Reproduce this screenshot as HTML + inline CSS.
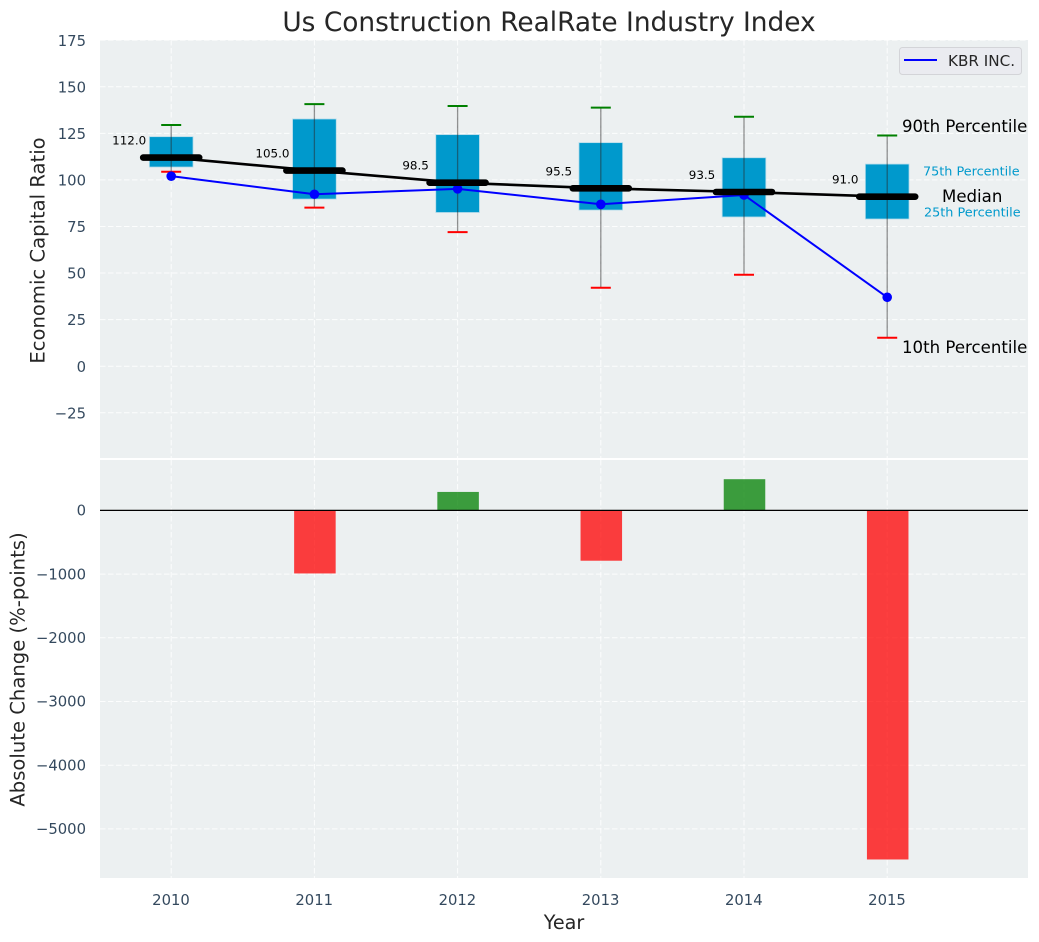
<!DOCTYPE html>
<html lang="en">
<head>
<meta charset="utf-8">
<title>Us Construction RealRate Industry Index</title>
<style>
html,body{margin:0;padding:0;background:#fff;}
svg{display:block;font-family:"DejaVu Sans","Liberation Sans",sans-serif;}
</style>
</head>
<body>
<svg id="chart" width="1039" height="942" viewBox="0 0 1039 942" xmlns="http://www.w3.org/2000/svg">
  <rect x="0" y="0" width="1039" height="942" fill="#ffffff"/>
  <rect x="100" y="40" width="928" height="418" fill="#ecf0f1"/>
  <rect x="100" y="460" width="928" height="418" fill="#ecf0f1"/>
  <g id="grid"></g>
  <g id="bars"></g>
  <g id="boxes"></g>
  <g id="lines"></g>
  <g id="ticks"></g>
  <text x="549" y="31" text-anchor="middle" font-size="26.4" fill="#262626">Us Construction RealRate Industry Index</text>
  <text transform="translate(44.5,250.5) rotate(-90)" text-anchor="middle" font-size="19.6" fill="#262626">Economic Capital Ratio</text>
  <text transform="translate(24.5,669.5) rotate(-90)" text-anchor="middle" font-size="19.6" fill="#262626">Absolute Change (%-points)</text>
  <text x="564" y="929" text-anchor="middle" font-size="19.2" fill="#262626">Year</text>
  <text x="902" y="132" font-size="16.6" fill="#000000">90th Percentile</text>
  <text x="923" y="175.5" font-size="12.8" fill="#0099cc">75th Percentile</text>
  <text x="942" y="202" font-size="16.6" fill="#000000">Median</text>
  <text x="924" y="216.5" font-size="12.8" fill="#0099cc">25th Percentile</text>
  <text x="902" y="353" font-size="16.6" fill="#000000">10th Percentile</text>
  <g>
    <rect x="899.5" y="47.5" width="122" height="27" rx="3" fill="#eaebf0" stroke="#d3d4d8" stroke-width="1"/>
    <line x1="904" y1="60" x2="937" y2="60" stroke="#0000ff" stroke-width="2"/>
    <text x="948" y="66" font-size="15.2" fill="#262626">KBR INC.</text>
  </g>
</svg>
<script>
var years = [2010, 2011, 2012, 2013, 2014, 2015];
var p90 = [129.5, 140.7, 139.7, 138.8, 133.9, 123.8];
var p75 = [123.2, 132.7, 124.3, 120, 111.9, 108.5];
var medians = [112, 105, 98.5, 95.5, 93.5, 91];
var p25 = [106.9, 89.7, 82.5, 83.8, 80.1, 79];
var p10 = [104.4, 85.1, 72, 42.1, 49.1, 15.3];
var kbr = [102, 92.3, 95.2, 86.9, 91.9, 37];
var changes = [0, -990, 290, -790, 490, -5480];
var topTicks = [175, 150, 125, 100, 75, 50, 25, 0, -25];
var bottomTicks = [0, -1000, -2000, -3000, -4000, -5000];

var NS = 'http://www.w3.org/2000/svg';
function xScale(v) { return 171.2 + (v - 2010) * 143.2; }
function xLen(v) { return v * 143.2; }
function yTop(v) { return 366.2 - v * 1.863; }
function yBottom(v) { return 510.4 - v * 0.0637; }
function fmt(v) { return (v < 0 ? '\u2212' + Math.abs(v) : String(v)); }

function line(parent, x1, y1, x2, y2, stroke, width) {
  var el = document.createElementNS(NS, 'line');
  el.setAttribute('x1', x1);
  el.setAttribute('y1', y1);
  el.setAttribute('x2', x2);
  el.setAttribute('y2', y2);
  el.setAttribute('stroke', stroke);
  el.setAttribute('stroke-width', width);
  parent.appendChild(el);
  return el;
}
function rect(parent, x, y, w, h, fill) {
  var el = document.createElementNS(NS, 'rect');
  el.setAttribute('x', x);
  el.setAttribute('y', y);
  el.setAttribute('width', w);
  el.setAttribute('height', h);
  el.setAttribute('fill', fill);
  parent.appendChild(el);
  return el;
}
function text(parent, x, y, str, size, fill, anchor) {
  var el = document.createElementNS(NS, 'text');
  el.setAttribute('x', x);
  el.setAttribute('y', y);
  el.setAttribute('font-size', size);
  el.setAttribute('fill', fill);
  el.setAttribute('text-anchor', anchor);
  el.textContent = str;
  parent.appendChild(el);
  return el;
}

var gGrid = document.getElementById('grid');
var gBars = document.getElementById('bars');
var gBoxes = document.getElementById('boxes');
var gLines = document.getElementById('lines');
var gTicks = document.getElementById('ticks');
var TICK = '#34495e';
var GRID = 'rgba(255,255,255,0.85)';
var DASH = '5.5 2.5';

topTicks.forEach(function (t) {
  var y = yTop(t);
  var g = line(gGrid, 100, y, 1028, y, GRID, 1);
  g.setAttribute('stroke-dasharray', DASH);
  
  
  var l = text(gTicks, 86, y + 5.6, fmt(t), 14.8, TICK, 'end');
  
  
});
bottomTicks.forEach(function (t) {
  var y = yBottom(t);
  if (t !== 0) {
    var g = line(gGrid, 100, y, 1028, y, GRID, 1);
    g.setAttribute('stroke-dasharray', DASH);
    
    
  }
  var l = text(gTicks, 86, y + 5.2, fmt(t), 14.8, TICK, 'end');
  
  
});
years.forEach(function (yr) {
  var x = xScale(yr);
  var a = line(gGrid, x, 40, x, 458, GRID, 1);
  a.setAttribute('stroke-dasharray', DASH);
  
  
  var b = line(gGrid, x, 460, x, 878, GRID, 1);
  b.setAttribute('stroke-dasharray', DASH);
  
  
  var l = text(gTicks, x - 0.2, 905, String(yr), 14.8, TICK, 'middle');
  
  
});

years.forEach(function (yr, i) {
  var v = changes[i];
  if (v === 0) return;
  var w = xLen(0.29);
  var y0 = yBottom(Math.max(v, 0));
  var y1 = yBottom(Math.min(v, 0));
  var bar = rect(gBars, xScale(yr) - w / 2 + 0.5, y0, w, y1 - y0, v < 0 ? '#ff0000' : '#008000');
  bar.setAttribute('fill-opacity', '0.75');
  
  
});
var zero = line(gBars, 100, yBottom(0), 1028, yBottom(0), '#000000', 1.3);



years.forEach(function (yr, i) {
  var x = xScale(yr);
  var w = xLen(0.305);
  var box = rect(gBoxes, x - w / 2, yTop(p75[i]), w, yTop(p25[i]) - yTop(p75[i]), '#0099cc');
  box.setAttribute('stroke', '#b5dcea');
  box.setAttribute('stroke-width', '0.8');
  
  
  var whisker = line(gBoxes, x, yTop(p90[i]), x, yTop(p10[i]), 'rgba(40,40,40,0.5)', 1.3);
  
  
  var hi = line(gBoxes, x - 10, yTop(p90[i]), x + 10, yTop(p90[i]), '#008000', 2);
  
  
  var lo = line(gBoxes, x - 10, yTop(p10[i]), x + 10, yTop(p10[i]), '#ff0000', 2);
  
  
});

var medianPath = document.createElementNS(NS, 'polyline');
medianPath.setAttribute('points', years.map(function (yr, i) { return xScale(yr) + ',' + yTop(medians[i]); }).join(' '));
medianPath.setAttribute('fill', 'none');
medianPath.setAttribute('stroke', '#000000');
medianPath.setAttribute('stroke-width', '2.6');


gLines.appendChild(medianPath);

var kbrPath = document.createElementNS(NS, 'polyline');
kbrPath.setAttribute('points', years.map(function (yr, i) { return xScale(yr) + ',' + yTop(kbr[i]); }).join(' '));
kbrPath.setAttribute('fill', 'none');
kbrPath.setAttribute('stroke', '#0000ff');
kbrPath.setAttribute('stroke-width', '2');


gLines.appendChild(kbrPath);

years.forEach(function (yr, i) {
  var x = xScale(yr);
  var dot = document.createElementNS(NS, 'circle');
  dot.setAttribute('cx', x);
  dot.setAttribute('cy', yTop(kbr[i]));
  dot.setAttribute('r', 4.8);
  dot.setAttribute('fill', '#0000ff');
  
  
  gLines.appendChild(dot);

  var m = line(gLines, x - 28, yTop(medians[i]), x + 28, yTop(medians[i]), '#000000', 6.6);
  m.setAttribute('stroke-linecap', 'round');
  
  

  var label = text(gLines, x - 42, yTop(medians[i]) - 13, medians[i].toFixed(1), 11.9, '#000000', 'middle');
  
  
});
</script>
</body>
</html>
